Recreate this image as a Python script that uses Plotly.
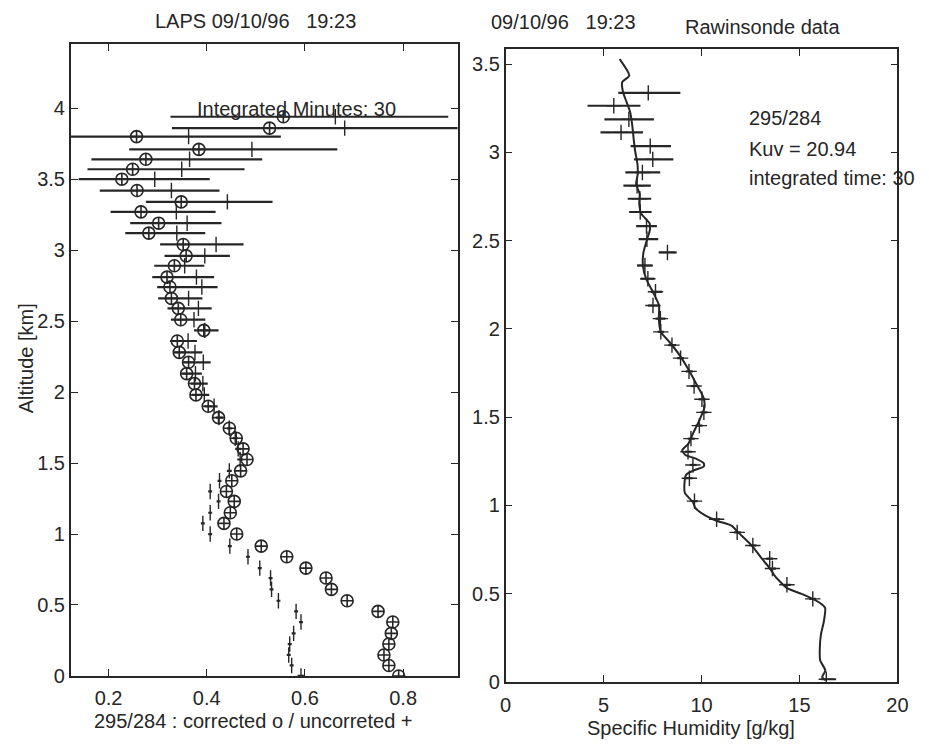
import plotly.graph_objects as go

INK = "#262626"
FONT = "Liberation Sans, Arial, sans-serif"

# ---------------- Left panel: LAPS ratio 295/284 ----------------
alt_l = [3.94, 3.86, 3.80, 3.71, 3.64, 3.57, 3.50, 3.42, 3.34, 3.27,
         3.19, 3.12, 3.04, 2.96, 2.89, 2.81, 2.74, 2.66, 2.59, 2.51,
         2.435, 2.36, 2.28, 2.21, 2.13, 2.06, 1.98, 1.90, 1.82, 1.745,
         1.675, 1.60, 1.525, 1.445, 1.375, 1.30, 1.23, 1.15, 1.075, 1.00,
         0.915, 0.84, 0.76, 0.69, 0.61, 0.53, 0.455, 0.38, 0.30, 0.225,
         0.148, 0.074, 0.0]
corrected = [0.556, 0.528, 0.257, 0.384, 0.276, 0.249, 0.227, 0.258, 0.348, 0.266,
             0.302, 0.282, 0.352, 0.358, 0.334, 0.319, 0.325, 0.328, 0.342, 0.347,
             0.394, 0.340, 0.344, 0.363, 0.359, 0.375, 0.378, 0.403, 0.424, 0.446,
             0.460, 0.474, 0.482, 0.469, 0.451, 0.440, 0.456, 0.448, 0.435, 0.461,
             0.511, 0.563, 0.602, 0.643, 0.654, 0.686, 0.749, 0.779, 0.776, 0.771,
             0.761, 0.771, 0.791]
uncorrected = [0.662, 0.681, 0.363, 0.492, 0.365, 0.349, 0.294, 0.328, 0.442, 0.338,
               0.360, 0.339, 0.419, 0.396, 0.355, 0.379, 0.390, 0.363, 0.383, 0.374,
               0.396, 0.362, 0.376, 0.393, 0.377, 0.392, 0.395, 0.415, 0.425, 0.446,
               0.458, 0.464, 0.468, 0.446, 0.426, 0.407, 0.424, 0.407, 0.392, 0.407,
               0.447, 0.484, 0.508, 0.530, 0.532, 0.546, 0.582, 0.592, 0.577, 0.569,
               0.567, 0.573, 0.592]
bar_lo = [0.326, 0.329, 0.100, 0.242, 0.165, 0.157, 0.139, 0.182, 0.276, 0.204,
          0.244, 0.234, 0.305, 0.314, 0.293, 0.289, 0.299, 0.301, 0.320, 0.327,
          0.374, 0.325, 0.334, 0.353, 0.350, 0.367, 0.369, 0.395, 0.419, 0.441,
          0.453, 0.458, 0.462, 0.441, 0.422, 0.403, 0.420, 0.403, 0.388, 0.403,
          0.443, 0.480, 0.504, 0.526, 0.528, 0.542, 0.578, 0.588, 0.573, 0.565,
          0.563, 0.569, 0.585]
bar_hi = [0.892, 1.000, 0.551, 0.666, 0.513, 0.477, 0.406, 0.426, 0.534, 0.418,
          0.430, 0.397, 0.475, 0.447, 0.395, 0.415, 0.422, 0.391, 0.410, 0.397,
          0.424, 0.380, 0.391, 0.408, 0.390, 0.402, 0.405, 0.422, 0.433, 0.451,
          0.463, 0.470, 0.474, 0.451, 0.430, 0.411, 0.428, 0.411, 0.396, 0.411,
          0.451, 0.488, 0.512, 0.534, 0.536, 0.550, 0.586, 0.596, 0.581, 0.573,
          0.571, 0.577, 0.600]

# ---------------- Right panel: Rawinsonde specific humidity ----------------
sonde_alt = [3.528, 3.435, 3.398, 3.342, 3.286, 3.230, 3.156, 3.081, 3.007, 2.932,
             2.876, 2.820, 2.765, 2.709, 2.653, 2.597, 2.560, 2.504, 2.429, 2.355,
             2.281, 2.206, 2.132, 2.058, 1.983, 1.927, 1.853, 1.759, 1.685, 1.611,
             1.555, 1.480, 1.406, 1.350, 1.312, 1.285, 1.266, 1.238, 1.220, 1.199,
             1.173, 1.127, 1.071, 1.015, 0.987, 0.949, 0.913, 0.885, 0.847, 0.773,
             0.698, 0.642, 0.596, 0.531, 0.494, 0.447, 0.419, 0.345, 0.270, 0.195,
             0.121, 0.065, 0.028, 0.009]
sonde_q = [5.82, 6.31, 5.95, 5.99, 6.17, 6.35, 6.46, 6.53, 6.61, 6.73,
           6.74, 6.66, 6.84, 6.82, 6.92, 7.35, 7.36, 7.21, 7.03, 7.01,
           7.18, 7.53, 7.83, 7.82, 7.92, 8.35, 8.87, 9.39, 9.75, 10.10,
           10.15, 9.88, 9.56, 9.33, 9.01, 9.18, 9.68, 10.11, 10.11, 9.62,
           9.21, 9.13, 9.15, 9.58, 9.67, 10.10, 10.77, 11.53, 11.87, 12.56,
           13.08, 13.50, 13.77, 14.37, 15.21, 16.05, 16.31, 16.25, 16.10, 16.04,
           16.06, 16.32, 16.16, 16.33]

laps_alt = [3.337, 3.264, 3.187, 3.113, 3.035, 2.960, 2.886, 2.811, 2.737, 2.662,
            2.582, 2.508, 2.433, 2.359, 2.284, 2.210, 2.132, 2.058, 1.983, 1.908,
            1.834, 1.759, 1.676, 1.601, 1.527, 1.452, 1.378, 1.304, 1.229, 1.154,
            1.024, 0.921, 0.847, 0.773, 0.698, 0.642, 0.550, 0.470, 0.015]
laps_q = [7.28, 5.52, 6.29, 5.89, 7.38, 7.51, 6.98, 6.71, 6.85, 6.87,
          7.19, 7.21, 8.26, 7.11, 7.26, 7.65, 7.52, 7.90, 7.92, 8.49,
          8.93, 9.36, 9.62, 10.02, 10.12, 9.89, 9.46, 9.31, 9.56, 9.38,
          9.64, 10.77, 11.82, 12.62, 13.48, 13.62, 14.36, 15.68, 16.37]
laps_lo = [5.75, 4.18, 5.04, 4.84, 6.38, 6.55, 6.11, 6.01, 6.23, 6.30,
           6.66, 6.79, 7.81, 6.71, 6.89, 7.41, 7.27, 7.65, 7.76, 8.30,
           8.75, 9.20, 9.45, 9.85, 9.95, 9.70, 9.30, 9.15, 9.40, 9.20,
           9.50, 10.60, 11.65, 12.45, 13.30, 13.45, 14.20, 15.50, 16.11]
laps_hi = [8.92, 6.88, 7.57, 7.01, 8.44, 8.56, 7.89, 7.41, 7.43, 7.45,
           7.72, 7.79, 8.73, 7.50, 7.59, 7.98, 7.80, 8.15, 8.09, 8.70,
           9.10, 9.55, 9.80, 10.20, 10.30, 10.05, 9.65, 9.50, 9.75, 9.55,
           9.80, 10.95, 12.00, 12.80, 13.65, 13.80, 14.55, 15.85, 16.87]

fig = go.Figure()

# Left: uncorrected (+) with horizontal error bars
fig.add_trace(go.Scatter(
    x=uncorrected, y=alt_l, mode="markers", xaxis="x", yaxis="y",
    marker=dict(symbol="line-ns-open", size=11, color=INK, line=dict(width=1.4, color=INK)),
    error_x=dict(type="data", symmetric=False,
                 array=[h - u for h, u in zip(bar_hi, uncorrected)],
                 arrayminus=[u - l for u, l in zip(uncorrected, bar_lo)],
                 width=0, thickness=2.2, color=INK),
    showlegend=False, hoverinfo="skip"))
# Left: corrected (o)
fig.add_trace(go.Scatter(
    x=corrected, y=alt_l, mode="markers", xaxis="x", yaxis="y",
    marker=dict(symbol="circle-cross-open", size=12, color=INK, line=dict(width=1.6, color=INK)),
    showlegend=False, hoverinfo="skip"))

# Right: rawinsonde line
fig.add_trace(go.Scatter(
    x=sonde_q, y=sonde_alt, mode="lines", xaxis="x2", yaxis="y2",
    line=dict(color=INK, width=2, shape="spline", smoothing=0.6),
    showlegend=False, hoverinfo="skip"))
# Right: LAPS retrieval (+) with error bars
fig.add_trace(go.Scatter(
    x=laps_q, y=laps_alt, mode="markers", xaxis="x2", yaxis="y2",
    marker=dict(symbol="cross-thin-open", size=11, color=INK, line=dict(width=1.4, color=INK)),
    error_x=dict(type="data", symmetric=False,
                 array=[h - q for h, q in zip(laps_hi, laps_q)],
                 arrayminus=[q - l for q, l in zip(laps_q, laps_lo)],
                 width=0, thickness=2.2, color=INK),
    showlegend=False, hoverinfo="skip"))

W, H = 929, 752
def px(x):
    return x / W
def py(y):
    return 1 - y / H

axis_common = dict(showline=True, linewidth=1.6, linecolor=INK, mirror="ticks",
                   ticks="inside", ticklen=7, tickwidth=1.3, tickcolor=INK,
                   showgrid=False, zeroline=False,
                   tickfont=dict(family=FONT, size=20, color=INK))

fig.update_layout(
    width=W, height=H, margin=dict(l=0, r=0, t=0, b=0),
    paper_bgcolor="white", plot_bgcolor="white",
    font=dict(family=FONT, size=20, color=INK),
    xaxis=dict(domain=[px(66), px(460)], range=[0.123, 0.911], anchor="y",
               tickvals=[0.2, 0.4, 0.6, 0.8], ticktext=["0.2", "0.4", "0.6", "0.8"],
               ticklabelstandoff=3, **axis_common),
    yaxis=dict(domain=[py(686), py(45)], range=[0, 4.45], anchor="x",
               tick0=0, dtick=0.5, **axis_common),
    xaxis2=dict(domain=[px(509), px(908)], range=[0, 20], anchor="y2",
                tick0=0, dtick=5, ticklabelstandoff=4, **axis_common),
    yaxis2=dict(domain=[py(692), py(50)], range=[0, 3.584], anchor="x2",
                tick0=0, dtick=0.5, **axis_common),
)

NB = "\u00a0"
annots = [
    dict(text="LAPS 09/10/96" + NB * 3 + "19:23", x=px(254), y=py(21), xanchor="center"),
    dict(text="09/10/96" + NB * 3 + "19:23", x=px(492), y=py(22), xanchor="left"),
    dict(text="Rawinsonde data", x=px(690), y=py(27), xanchor="left"),
    dict(text="295/284 : corrected o / uncorreted +", x=px(252), y=py(732), xanchor="center"),
    dict(text="Specific Humidity [g/kg]", x=px(698), y=py(739), xanchor="center"),
    dict(text="Integrated Minutes: 30", x=px(193), y=py(111), xanchor="left"),
    dict(text="295/284", x=px(755), y=py(120), xanchor="left"),
    dict(text="Kuv = 20.94", x=px(755), y=py(151), xanchor="left"),
    dict(text="integrated time: 30", x=px(755), y=py(181), xanchor="left"),
]
for a in annots:
    fig.add_annotation(xref="paper", yref="paper", yanchor="middle", showarrow=False,
                       font=dict(family=FONT, size=20, color=INK), **a)
fig.add_annotation(text="Altitude [km]", xref="paper", yref="paper", x=px(20), y=py(364),
                   textangle=-90, showarrow=False, xanchor="center", yanchor="middle",
                   font=dict(family=FONT, size=20, color=INK))

fig.write_html("out.html", config={"displayModeBar": False},
               post_script="document.body.style.margin='0';")
